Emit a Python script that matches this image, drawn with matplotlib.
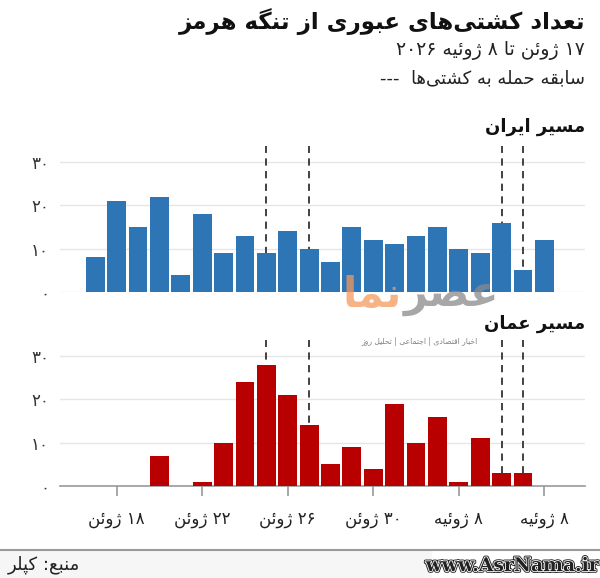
import re
import matplotlib
matplotlib.use("Agg")
import matplotlib.pyplot as plt
import matplotlib.patheffects as pe

plt.rcParams['font.family'] = ['DejaVu Sans']

# داده‌ها: ۱۷ ژوئن تا ۸ ژوئیه (۲۲ روز)
days = list(range(22))
iran = [8, 21, 15, 22, 4, 18, 9, 13, 9, 14, 10, 7, 15, 12, 11, 13, 15, 10, 9, 16, 5, 12]
oman = [0, 0, 0, 7, 0, 1, 10, 24, 28, 21, 14, 5, 9, 4, 19, 10, 16, 1, 11, 3, 3, 0]
attack_days = [8, 10, 19, 20]
tick_days = [1, 5, 9, 13, 17, 21]
tick_labels = ['۱۸ ژوئن', '۲۲ ژوئن', '۲۶ ژوئن', '۳۰ ژوئن', '۸ ژوئیه', '۸ ژوئیه']
y_ticks = [0, 10, 20, 30]
y_labels = ['۰', '۱۰', '۲۰', '۳۰']

title = 'تعداد کشتی‌های عبوری از تنگه هرمز'
subtitle = '۱۷ ژوئن تا ۸ ژوئیه ۲۰۲۶'
legend_txt = 'سابقه حمله به کشتی‌ها'
panel_titles = ['مسیر ایران', 'مسیر عمان']
source = 'منبع: کپلر'

# شکل‌های نمایشی حروف (تنها، پایانی، آغازی، میانی)
FORMS = {
    'ا': (0xFE8D, 0xFE8E), 'آ': (0xFE81, 0xFE82), 'أ': (0xFE83, 0xFE84),
    'د': (0xFEA9, 0xFEAA), 'ذ': (0xFEAB, 0xFEAC), 'ر': (0xFEAD, 0xFEAE),
    'ز': (0xFEAF, 0xFEB0), 'ژ': (0xFB8A, 0xFB8B), 'و': (0xFEED, 0xFEEE),
    'ؤ': (0xFE85, 0xFE86), 'ة': (0xFE93, 0xFE94),
    'ب': (0xFE8F, 0xFE90, 0xFE91, 0xFE92), 'پ': (0xFB56, 0xFB57, 0xFB58, 0xFB59),
    'ت': (0xFE95, 0xFE96, 0xFE97, 0xFE98), 'ث': (0xFE99, 0xFE9A, 0xFE9B, 0xFE9C),
    'ج': (0xFE9D, 0xFE9E, 0xFE9F, 0xFEA0), 'چ': (0xFB7A, 0xFB7B, 0xFB7C, 0xFB7D),
    'ح': (0xFEA1, 0xFEA2, 0xFEA3, 0xFEA4), 'خ': (0xFEA5, 0xFEA6, 0xFEA7, 0xFEA8),
    'س': (0xFEB1, 0xFEB2, 0xFEB3, 0xFEB4), 'ش': (0xFEB5, 0xFEB6, 0xFEB7, 0xFEB8),
    'ص': (0xFEB9, 0xFEBA, 0xFEBB, 0xFEBC), 'ض': (0xFEBD, 0xFEBE, 0xFEBF, 0xFEC0),
    'ط': (0xFEC1, 0xFEC2, 0xFEC3, 0xFEC4), 'ظ': (0xFEC5, 0xFEC6, 0xFEC7, 0xFEC8),
    'ع': (0xFEC9, 0xFECA, 0xFECB, 0xFECC), 'غ': (0xFECD, 0xFECE, 0xFECF, 0xFED0),
    'ف': (0xFED1, 0xFED2, 0xFED3, 0xFED4), 'ق': (0xFED5, 0xFED6, 0xFED7, 0xFED8),
    'ک': (0xFB8E, 0xFB8F, 0xFB90, 0xFB91), 'گ': (0xFB92, 0xFB93, 0xFB94, 0xFB95),
    'ل': (0xFEDD, 0xFEDE, 0xFEDF, 0xFEE0), 'م': (0xFEE1, 0xFEE2, 0xFEE3, 0xFEE4),
    'ن': (0xFEE5, 0xFEE6, 0xFEE7, 0xFEE8), 'ه': (0xFEE9, 0xFEEA, 0xFEEB, 0xFEEC),
    'ی': (0xFBFC, 0xFBFD, 0xFBFE, 0xFBFF), 'ئ': (0xFE89, 0xFE8A, 0xFE8B, 0xFE8C),
}
DIGITS = '0123456789۰۱۲۳۴۵۶۷۸۹'


def rtl(s):
    # اتصال حروف و برگرداندن ترتیب برای نمایش راست‌به‌چپ
    out = []
    for i, ch in enumerate(s):
        if ch not in FORMS:
            if ch != '\u200c':
                out.append(ch)
            continue
        f = FORMS[ch]
        prev = s[i - 1] if i > 0 else ''
        nxt = s[i + 1] if i + 1 < len(s) else ''
        p = prev in FORMS and len(FORMS[prev]) == 4
        q = len(f) == 4 and nxt in FORMS
        if p and q:
            c = f[3]
        elif p:
            c = f[1]
        elif q:
            c = f[2]
        else:
            c = f[0]
        out.append(chr(c))
    tokens = re.findall('[%s]+|[^%s]+' % (DIGITS, DIGITS), ''.join(out))
    return ''.join(t if t[0] in DIGITS else t[::-1] for t in reversed(tokens))


W, H = 600, 578
fig = plt.figure(figsize=(W / 100, H / 100), dpi=100)


def fx(px):
    return px / W


def fy(py):
    return 1 - py / H


ax_h = 35 * 4.33 / H
ax_top = fig.add_axes([fx(60), fy(292), fx(525), ax_h])
ax_bot = fig.add_axes([fx(60), fy(486), fx(525), ax_h])

for ax, vals, col in [(ax_top, iran, '#2e75b6'), (ax_bot, oman, '#b80000')]:
    ax.bar(days, vals, width=0.88, color=col, zorder=3)
    ax.vlines(attack_days, 0, 33.8, colors='#333333', linestyles=(0, (4, 3)),
              lw=1.3, zorder=2)
    ax.set_xlim(-1.65, 22.9)
    ax.set_ylim(0, 35)
    ax.set_yticks(y_ticks)
    ax.set_yticklabels(y_labels, fontsize=12, color='#333333')
    ax.tick_params(axis='y', length=0, pad=8)
    ax.yaxis.grid(True, color='#e6e6e6', lw=1, zorder=0)
    ax.set_axisbelow(True)
    for sp in ax.spines.values():
        sp.set_visible(False)

ax_top.set_xticks([])
ax_bot.spines['bottom'].set_visible(True)
ax_bot.spines['bottom'].set_color('#999999')
ax_bot.spines['bottom'].set_linewidth(1.2)
ax_bot.set_xticks(tick_days)
ax_bot.set_xticklabels([rtl(t) for t in tick_labels], fontsize=12, color='#222222')
ax_bot.tick_params(axis='x', length=7, color='#999999', width=1.2, pad=10)

# عنوان‌ها
fig.text(fx(585), fy(22), rtl(title), ha='right', va='center', fontsize=16.5,
         fontweight='bold', color='#111111')
fig.text(fx(585), fy(50), rtl(subtitle), ha='right', va='center', fontsize=13.5,
         color='#222222')
fig.text(fx(585), fy(78), '---  ' + rtl(legend_txt), ha='right', va='center',
         fontsize=13, color='#222222')
fig.text(fx(585), fy(127), rtl(panel_titles[0]), ha='right', va='center',
         fontsize=13, fontweight='bold', color='#111111')
fig.text(fx(585), fy(324), rtl(panel_titles[1]), ha='right', va='center',
         fontsize=13, fontweight='bold', color='#111111')

# واترمارک
fig.text(fx(402), fy(295), rtl('نما'), ha='right', va='center', fontsize=30,
         fontweight='bold', color='#f39a5c', alpha=0.75, zorder=10)
fig.text(fx(404), fy(295), rtl('عصر'), ha='left', va='center', fontsize=30,
         fontweight='bold', color='#8a8a8a', alpha=0.75, zorder=10)
fig.text(fx(478), fy(342), rtl('اخبار اقتصادی | اجتماعی | تحلیل روز'), ha='right',
         va='center', fontsize=5.5, color='#666666', alpha=0.8, zorder=10)

# پانویس
fig.add_artist(plt.Rectangle((0, 0), 1, fy(550), transform=fig.transFigure,
                             color='#f6f6f6', zorder=0))
fig.add_artist(plt.Rectangle((fx(432), 0), 1, fy(550), transform=fig.transFigure,
                             color='white', zorder=0))
fig.add_artist(plt.Line2D([0, 1], [fy(550), fy(550)], transform=fig.transFigure,
                          color='#9a9a9a', lw=1.5))
fig.text(fx(8), fy(565), rtl(source), ha='left', va='center', fontsize=13,
         color='#222222')
t = fig.text(fx(598), fy(566), 'www.AsrNama.ir', ha='right', va='center',
             fontsize=13.5, fontweight='bold', family='DejaVu Serif', color='#222222')
t.set_path_effects([pe.Stroke(linewidth=2.5, foreground='#222222'),
                    pe.Stroke(linewidth=1.2, foreground='white'), pe.Normal()])

fig.savefig('out.png', dpi=100)
